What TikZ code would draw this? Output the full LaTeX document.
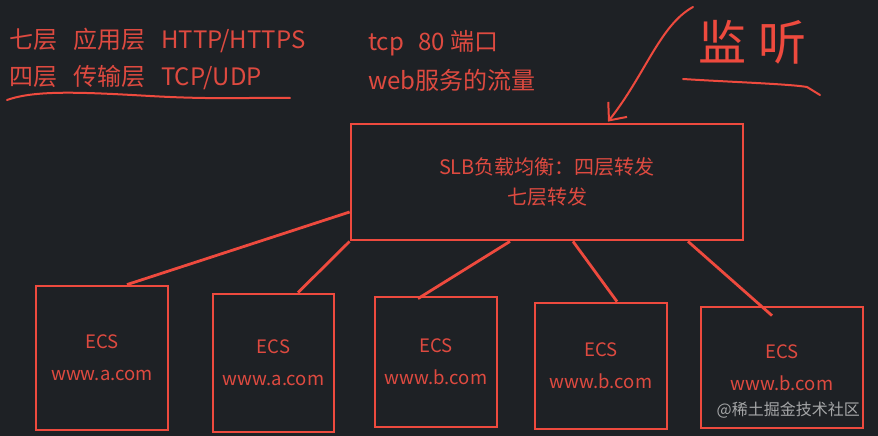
\documentclass[tikz,border=0pt]{standalone}
\usepackage{fontspec}
\setmainfont{Noto Sans CJK SC}
\usetikzlibrary{arrows.meta}
\definecolor{bg}{HTML}{1E2125}
\definecolor{ln}{HTML}{EE4A3E}
\definecolor{tx}{HTML}{DE4A40}
\begin{document}
\begin{tikzpicture}[x=1pt,y=-1pt,
  box/.style={draw=ln, line width=2.8pt, inner sep=0pt, align=center, text=tx,
    font=\fontsize{18.5}{32}\selectfont},
  conn/.style={draw=ln, line width=2.8pt},
  hand/.style={draw=ln, line width=2pt, line cap=round, line join=round},
  toptext/.style={anchor=west, text=tx, inner sep=0pt, font=\fontsize{24}{28}\selectfont},
  wm/.style={anchor=east, text=white, opacity=0.6, inner sep=0pt, font=\fontsize{16}{20}\selectfont}]
\fill[bg] (0,0) rectangle (878,436);
\useasboundingbox (0,0) rectangle (878,436);

% top-left texts
\node[toptext] (l7) at (9,40) {七层\hspace{16pt}应用层\hspace{16pt}HTTP/HTTPS};
\node[toptext] (l4) at (9,78) {四层\hspace{16pt}传输层\hspace{16pt}TCP/UDP};
\draw[hand] (7,100) .. controls (35,90) and (80,92) .. (150,96) .. controls (220,100) and (260,97) .. (290,98);

\node[toptext] (tcp) at (368,43) {tcp\hspace{14pt}80 端口};
\node[toptext] (web) at (368,80) {web服务的流量};

% handwriting
\node[text=ln, inner sep=0pt, font=\fontsize{48}{48}\selectfont] (hw) at (752,42) {监\hspace{12pt}听};
\draw[hand] (683,79) .. controls (730,82) and (790,84) .. (807,87) -- (820,95);

% SLB
\node[box, minimum width=392pt, minimum height=116pt, font=\fontsize{20}{30}\selectfont] (slb) at (547,182)
  {SLB负载均衡：四层转发\\七层转发};

% ECS boxes
\node[box, minimum width=132pt, minimum height=144pt] (e1) at (102,358) {ECS\\www.a.com};
\node[box, minimum width=121pt, minimum height=138pt] (e2) at (273.5,363) {ECS\\www.a.com};
\node[box, minimum width=122pt, minimum height=130pt] (e3) at (436,362) {ECS\\www.b.com};
\node[box, minimum width=132pt, minimum height=126pt] (e4) at (601,366) {ECS\\www.b.com};
\node[box, minimum width=162pt, minimum height=121pt] (e5) at (782,367.5) {ECS\\www.b.com};

% connectors
\draw[conn] ([yshift=-30pt]slb.west) -- ([xshift=25pt]e1.north);
\draw[conn] (slb.south west) -- ([xshift=24.5pt]e2.north);
\draw[conn] ([xshift=-37pt]slb.south) -- ([xshift=-18pt,yshift=-3pt]e3.north);
\draw[conn] ([xshift=26pt]slb.south) -- ([xshift=16pt]e4.north);
\draw[conn] ([xshift=141pt]slb.south) -- ([xshift=-10pt,yshift=-10pt]e5.north);

% hand arrow
\coordinate (hs) at (693,7);
\draw[hand, -{Straight Barb[length=14pt,width=24pt]}] (hs) .. controls (660,25) and (645,75) .. ([xshift=61pt,yshift=1pt]slb.north);

% watermark
\node[wm] (wmk) at (860,410) {@稀土掘金技术社区};
\end{tikzpicture}
\end{document}
